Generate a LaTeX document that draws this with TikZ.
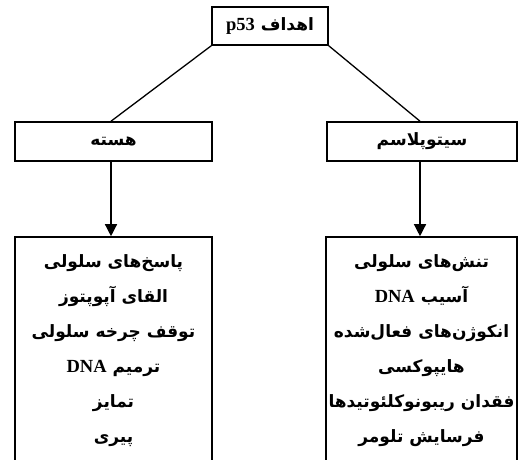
\documentclass[tikz,border=0pt]{standalone}
\usepackage{fontspec}
\TeXXeTstate=1
\newfontfamily\fa[Script=Arabic]{DejaVu Sans}
\newfontfamily\lat{Liberation Serif}
\newcommand{\latin}[1]{{\lat\bfseries\fontsize{18.5}{35}\selectfont\beginL #1\endL}}
\usetikzlibrary{arrows.meta}
\begin{document}
\begin{tikzpicture}[x=1pt,y=-1pt,
  box/.style={draw,line width=1.6pt,inner sep=0pt,align=center,font=\fa\bfseries\fontsize{17}{35}\selectfont},
  conn/.style={line width=1.3pt},
  arr/.style={conn,-{Triangle[length=12pt,width=12pt]}}]
\useasboundingbox (0,0) rectangle (518,459);
\clip (0,0) rectangle (518,459);
\fill[white] (0,0) rectangle (518,459);
\node[box,minimum width=116pt,minimum height=38pt] (top) at (270,26)
  {\beginR اهداف \latin{p53}\endR};
\node[box,minimum width=197pt,minimum height=39pt] (nuc) at (113.5,141.5) {\beginR هسته\endR};
\node[box,minimum width=190pt,minimum height=39pt] (cyt) at (422,141.5) {\beginR سیتوپلاسم\endR};
\node[box,minimum width=197pt,minimum height=228pt] (nucl) at (113.5,351)
  {\beginR پاسخ‌های سلولی\endR\\
   \beginR القای آپوپتوز\endR\\
   \beginR توقف چرخه سلولی\endR\\
   \beginR ترمیم \latin{DNA}\endR\\
   \beginR تمایز\endR\\
   \beginR پیری\endR};
\node[box,minimum width=191pt,minimum height=228pt] (cytl) at (421.5,351)
  {\beginR تنش‌های سلولی\endR\\
   \beginR آسیب \latin{DNA}\endR\\
   \beginR انکوژن‌های فعال‌شده\endR\\
   \beginR هایپوکسی\endR\\
   \beginR فقدان ریبونوکلئوتیدها\endR\\
   \beginR فرسایش تلومر\endR};
\draw[conn] (top.south west) -- ([xshift=-2.5pt]nuc.north);
\draw[conn] (top.south east) -- ([xshift=-2pt]cyt.north);
\draw[arr] ([xshift=-2.5pt]nuc.south) -- ([xshift=-2.5pt]nucl.north);
\draw[arr] ([xshift=-2pt]cyt.south) -- ([xshift=-1.5pt]cytl.north);
\end{tikzpicture}
\end{document}
